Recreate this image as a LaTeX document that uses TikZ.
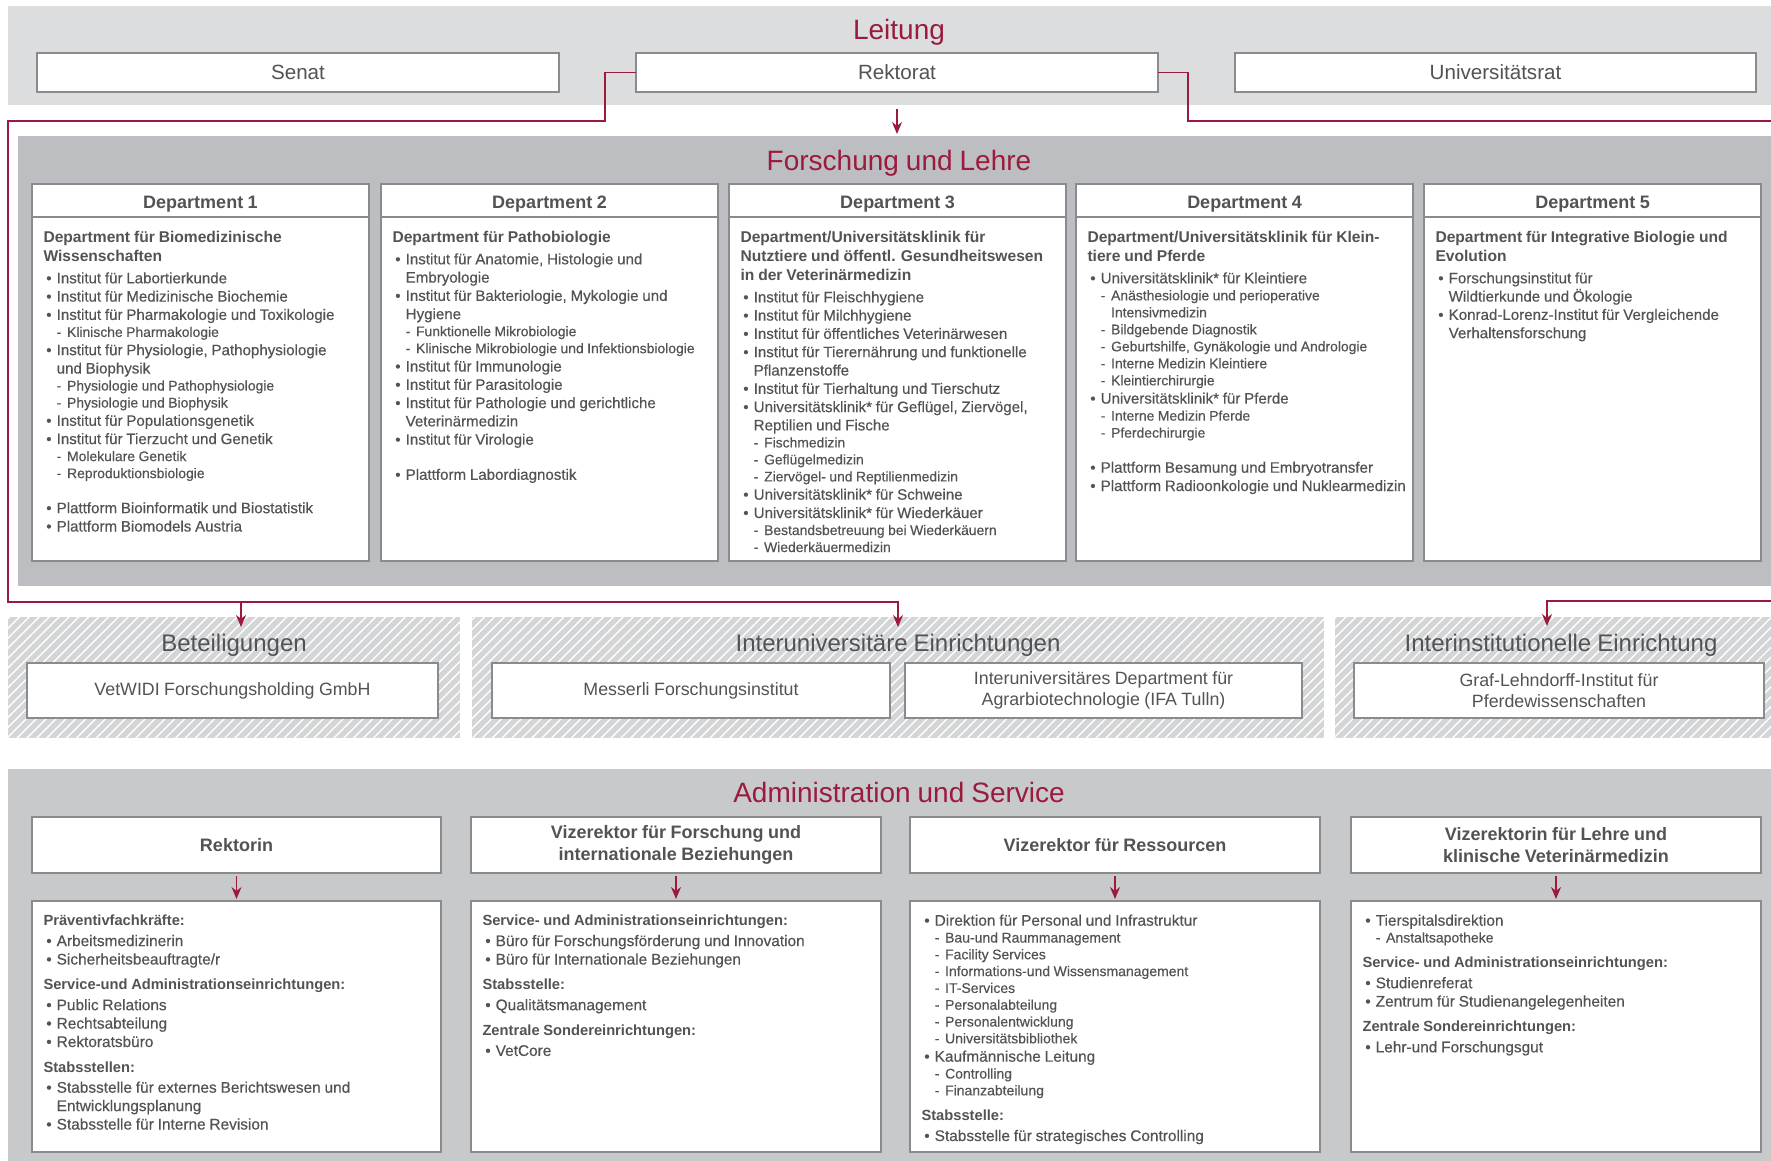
\documentclass[tikz,border=0pt]{standalone}
\usepackage{fontspec}
\setmainfont{Liberation Sans}[WordSpace=0.9]
\newfontfamily\medfont{Liberation Sans}[FakeBold=0.4,WordSpace=0.9]
\usetikzlibrary{arrows.meta,patterns.meta,calc}
\definecolor{uired}{RGB}{155,27,62}
\definecolor{txt}{RGB}{82,83,85}
\definecolor{bord}{RGB}{138,139,142}
\definecolor{bandA}{RGB}{220,221,223}
\definecolor{bandB}{RGB}{189,190,193}
\definecolor{bandC}{RGB}{200,201,203}
\definecolor{hatchbg}{RGB}{212,213,214}

\newcommand\tightsp{\spaceskip=0pt\xspaceskip=0pt\relax}
\newcommand\hdF{}\newcommand\itF{}\newcommand\suF{}\newcommand\aftgap{0pt}
\newcommand\deptset{%
 \renewcommand\hdF{\normalfont\bfseries\fontsize{7.8pt}{9.5pt}\selectfont\tightsp}%
 \renewcommand\itF{\medfont\fontsize{7.55pt}{9.15pt}\selectfont\tightsp}%
 \renewcommand\suF{\medfont\fontsize{6.95pt}{8.5pt}\selectfont\tightsp}%
 \renewcommand\aftgap{2pt}}
\newcommand\admset{%
 \renewcommand\hdF{\normalfont\bfseries\fontsize{7.35pt}{12.65pt}\selectfont\tightsp}%
 \renewcommand\itF{\medfont\fontsize{7.7pt}{9.2pt}\selectfont\tightsp}%
 \renewcommand\suF{\medfont\fontsize{7pt}{8.4pt}\selectfont\tightsp}%
 \renewcommand\aftgap{1pt}}
\newcommand\nl{\hfil\break}
\newcommand\xHd[1]{\par{\hdF\noindent #1\par}\vspace{\aftgap}}
\newcommand\xBi[1]{\par{\itF\hangindent=6.6pt\hangafter=1\noindent\hspace*{1.4pt}\makebox[5.2pt][l]{\textbullet}#1\par}}
\newcommand\xSi[1]{\par{\suF\hangindent=11.8pt\hangafter=1\noindent\hspace*{6.6pt}\makebox[5.2pt][l]{-}#1\par}}
\newcommand\xGap[1]{\par\vspace{#1}}
\newcommand\mkbox[7]{\node[#1, minimum width={(#5-#3)*0.5pt}, minimum height={(#6-#4)*0.5pt}] (#2) at ({(#3+#5)/2},{(#4+#6)/2}) {#7};}

\begin{document}
\begin{tikzpicture}[x=0.5pt,y=-0.5pt,
  wbox/.style={draw=bord, line width=0.8pt, fill=white, inner sep=0pt, outer sep=0pt, text=txt, align=center},
  topf/.style={font=\fontsize{10.3pt}{12pt}\selectfont},
  admtop/.style={font=\bfseries\fontsize{9pt}{11.3pt}\selectfont},
  bandf/.style={font=\fontsize{8.9pt}{10.2pt}\selectfont},
  hatchband/.style={draw=none, inner sep=0pt, outer sep=0pt, preaction={fill=hatchbg}, pattern={Lines[angle=45,distance=3.5pt,line width=0.7pt]}, pattern color=white},
  ttl/.style={anchor=base, inner sep=0pt, text=uired, font=\fontsize{14pt}{16pt}\selectfont},
  bttl/.style={anchor=base, inner sep=0pt, text=txt, font=\fontsize{12pt}{14pt}\selectfont},
  dhead/.style={anchor=base, inner sep=0pt, text=txt, font=\bfseries\fontsize{9pt}{11pt}\selectfont},
  lst/.style={anchor=base west, inner sep=0pt, outer sep=0pt, text width=172pt, align=left, text=txt},
  conn/.style={draw=uired, line width=0.7pt},
  arr/.style={-{Stealth[length=6pt,width=5pt]}},
  sepl/.style={draw=bord, line width=0.8pt}
]
\useasboundingbox (0,0) rectangle (1771,1161);
\fill[white] (0,0) rectangle (1771,1161);

% ---------- Leitung ----------
\fill[bandA] (8,6) rectangle (1771,105);
\node[ttl] (tLeitung) at (899,39.5) {Leitung};
\mkbox{wbox,topf}{senat}{37}{53}{559}{92}{Senat}
\mkbox{wbox,topf}{rektorat}{636}{53}{1158}{92}{Rektorat}
\mkbox{wbox,topf}{unirat}{1235}{53}{1756}{92}{Universitätsrat}

% ---------- Forschung und Lehre ----------
\fill[bandB] (18,136) rectangle (1771,586);
\node[ttl] (tFL) at (899,170) {Forschung und Lehre};
\foreach \i/\L in {1/32,2/381,3/729,4/1076,5/1424}{
  \mkbox{wbox}{d\i}{\L}{184}{\L+337}{561}{}
  \draw[sepl] (\L,217) -- (\L+337,217);
  \node[dhead] (dh\i) at (\L+168.5,208) {Department \i};
}

\node[lst, font=\deptset] (d1t) at (43.5,223) {%
\xHd{Department für Biomedizinische\nl Wissenschaften}%
\xBi{Institut für Labortierkunde}%
\xBi{Institut für Medizinische Biochemie}%
\xBi{Institut für Pharmakologie und Toxikologie}%
\xSi{Klinische Pharmakologie}%
\xBi{Institut für Physiologie, Pathophysiologie\nl und Biophysik}%
\xSi{Physiologie und Pathophysiologie}%
\xSi{Physiologie und Biophysik}%
\xBi{Institut für Populationsgenetik}%
\xBi{Institut für Tierzucht und Genetik}%
\xSi{Molekulare Genetik}%
\xSi{Reproduktionsbiologie}%
\xGap{8.4pt}%
\xBi{Plattform Bioinformatik und Biostatistik}%
\xBi{Plattform Biomodels Austria}%
};

\node[lst, font=\deptset] (d2t) at (392.5,223) {%
\xHd{Department für Pathobiologie}%
\xBi{Institut für Anatomie, Histologie und\nl Embryologie}%
\xBi{Institut für Bakteriologie, Mykologie und\nl Hygiene}%
\xSi{Funktionelle Mikrobiologie}%
\xSi{Klinische Mikrobiologie und Infektionsbiologie}%
\xBi{Institut für Immunologie}%
\xBi{Institut für Parasitologie}%
\xBi{Institut für Pathologie und gerichtliche\nl Veterinärmedizin}%
\xBi{Institut für Virologie}%
\xGap{8.4pt}%
\xBi{Plattform Labordiagnostik}%
};

\node[lst, font=\deptset] (d3t) at (740.5,223) {%
\xHd{Department/Universitätsklinik für\nl Nutztiere und öffentl. Gesundheitswesen\nl in der Veterinärmedizin}%
\xBi{Institut für Fleischhygiene}%
\xBi{Institut für Milchhygiene}%
\xBi{Institut für öffentliches Veterinärwesen}%
\xBi{Institut für Tierernährung und funktionelle\nl Pflanzenstoffe}%
\xBi{Institut für Tierhaltung und Tierschutz}%
\xBi{Universitätsklinik* für Geflügel, Ziervögel,\nl Reptilien und Fische}%
\xSi{Fischmedizin}%
\xSi{Geflügelmedizin}%
\xSi{Ziervögel- und Reptilienmedizin}%
\xBi{Universitätsklinik* für Schweine}%
\xBi{Universitätsklinik* für Wiederkäuer}%
\xSi{Bestandsbetreuung bei Wiederkäuern}%
\xSi{Wiederkäuermedizin}%
};

\node[lst, font=\deptset] (d4t) at (1087.5,223) {%
\xHd{Department/Universitätsklinik für Klein-\nl tiere und Pferde}%
\xBi{Universitätsklinik* für Kleintiere}%
\xSi{Anästhesiologie und perioperative\nl Intensivmedizin}%
\xSi{Bildgebende Diagnostik}%
\xSi{Geburtshilfe, Gynäkologie und Andrologie}%
\xSi{Interne Medizin Kleintiere}%
\xSi{Kleintierchirurgie}%
\xBi{Universitätsklinik* für Pferde}%
\xSi{Interne Medizin Pferde}%
\xSi{Pferdechirurgie}%
\xGap{8.4pt}%
\xBi{Plattform Besamung und Embryotransfer}%
\xBi{Plattform Radioonkologie und Nuklearmedizin}%
};

\node[lst, font=\deptset] (d5t) at (1435.5,223) {%
\xHd{Department für Integrative Biologie und\nl Evolution}%
\xBi{Forschungsinstitut für\nl Wildtierkunde und Ökologie}%
\xBi{Konrad-Lorenz-Institut für Vergleichende\nl Verhaltensforschung}%
};

% ---------- hatched bands ----------
\mkbox{hatchband}{beteil}{8}{617}{460}{738}{}
\mkbox{hatchband}{interuni}{472}{617}{1324}{738}{}
\mkbox{hatchband}{interinst}{1335}{617}{1771}{738}{}
\node[bttl] (tBet) at (234,651) {Beteiligungen};
\node[bttl] (tIU) at (898,651) {Interuniversitäre Einrichtungen};
\node[bttl] (tII) at (1561,651) {Interinstitutionelle Einrichtung};
\mkbox{wbox,bandf}{vetwidi}{27}{663}{438}{718}{VetWIDI Forschungsholding GmbH}
\mkbox{wbox,bandf}{messerli}{492}{663}{890}{718}{Messerli Forschungsinstitut}
\mkbox{wbox,bandf}{ifa}{905}{663}{1302}{718}{Interuniversitäres Department für\\Agrarbiotechnologie (IFA Tulln)}
\mkbox{wbox,bandf}{graf}{1354}{663}{1764}{718}{Graf-Lehndorff-Institut für\\Pferdewissenschaften}

% ---------- Administration ----------
\fill[bandC] (8,769) rectangle (1771,1161);
\node[ttl] (tAS) at (899,802.5) {Administration und Service};
\mkbox{wbox,admtop}{a1}{32}{817}{441}{873}{Rektorin}
\mkbox{wbox,admtop}{a2}{471}{817}{881}{873}{Vizerektor für Forschung und\\internationale Beziehungen}
\mkbox{wbox,admtop}{a3}{910}{817}{1320}{873}{Vizerektor für Ressourcen}
\mkbox{wbox,admtop}{a4}{1351}{817}{1761}{873}{Vizerektorin für Lehre und\\klinische Veterinärmedizin}
\mkbox{wbox}{b1}{32}{901}{441}{1152}{}
\mkbox{wbox}{b2}{471}{901}{881}{1152}{}
\mkbox{wbox}{b3}{910}{901}{1320}{1152}{}
\mkbox{wbox}{b4}{1351}{901}{1761}{1152}{}
\foreach \k in {1,2,3,4}{
  \draw[conn,arr] ($(a\k.south)+(0,3)$) -- ($(b\k.north)+(0,-2)$);
}

\node[lst, text width=195pt, font=\admset] (b1t) at (43.5,900.4) {%
\xHd{Präventivfachkräfte:}%
\xBi{Arbeitsmedizinerin}%
\xBi{Sicherheitsbeauftragte/r}%
\xHd{Service-und Administrationseinrichtungen:}%
\xBi{Public Relations}%
\xBi{Rechtsabteilung}%
\xBi{Rektoratsbüro}%
\xHd{Stabsstellen:}%
\xBi{Stabsstelle für externes Berichtswesen und\nl Entwicklungsplanung}%
\xBi{Stabsstelle für Interne Revision}%
};

\node[lst, text width=195pt, font=\admset] (b2t) at (482.5,900.4) {%
\xHd{Service- und Administrationseinrichtungen:}%
\xBi{Büro für Forschungsförderung und Innovation}%
\xBi{Büro für Internationale Beziehungen}%
\xHd{Stabsstelle:}%
\xBi{Qualitätsmanagement}%
\xHd{Zentrale Sondereinrichtungen:}%
\xBi{VetCore}%
};

\node[lst, text width=195pt, font=\admset] (b3t) at (921.5,907.3) {%
\xBi{Direktion für Personal und Infrastruktur}%
\xSi{Bau-und Raummanagement}%
\xSi{Facility Services}%
\xSi{Informations-und Wissensmanagement}%
\xSi{IT-Services}%
\xSi{Personalabteilung}%
\xSi{Personalentwicklung}%
\xSi{Universitätsbibliothek}%
\xBi{Kaufmännische Leitung}%
\xSi{Controlling}%
\xSi{Finanzabteilung}%
\xHd{Stabsstelle:}%
\xBi{Stabsstelle für strategisches Controlling}%
};

\node[lst, text width=195pt, font=\admset] (b4t) at (1362.5,907.3) {%
\xBi{Tierspitalsdirektion}%
\xSi{Anstaltsapotheke}%
\xHd{Service- und Administrationseinrichtungen:}%
\xBi{Studienreferat}%
\xBi{Zentrum für Studienangelegenheiten}%
\xHd{Zentrale Sondereinrichtungen:}%
\xBi{Lehr-und Forschungsgut}%
};

% ---------- connectors ----------
\coordinate (c1) at (605,121);
\coordinate (c2) at (8,121);
\coordinate (c3) at (8,602);
\coordinate (c4) at (898,602);
\coordinate (tipI) at (898,627);
\coordinate (jB) at (241,602);
\coordinate (tipB) at (241,627);
\coordinate (c5) at (1188,121);
\coordinate (edgeA) at (1771,121);
\coordinate (edgeB) at (1771,601);
\coordinate (c6) at (1547,601);
\coordinate (tipJ) at (1547,626);
\draw[conn,arr] (rektorat.west) -| (c1) -- (c2) -- (c3) -- (c4) -- (tipI);
\draw[conn,arr] (jB) -- (tipB);
\draw[conn] (rektorat.east) -| (c5) -- (edgeA);
\draw[conn,arr] (edgeB) -- (c6) -- (tipJ);
\draw[conn,arr] ($(rektorat.south)+(0,17)$) -- ($(rektorat.south)+(0,42)$);
\end{tikzpicture}
\end{document}
